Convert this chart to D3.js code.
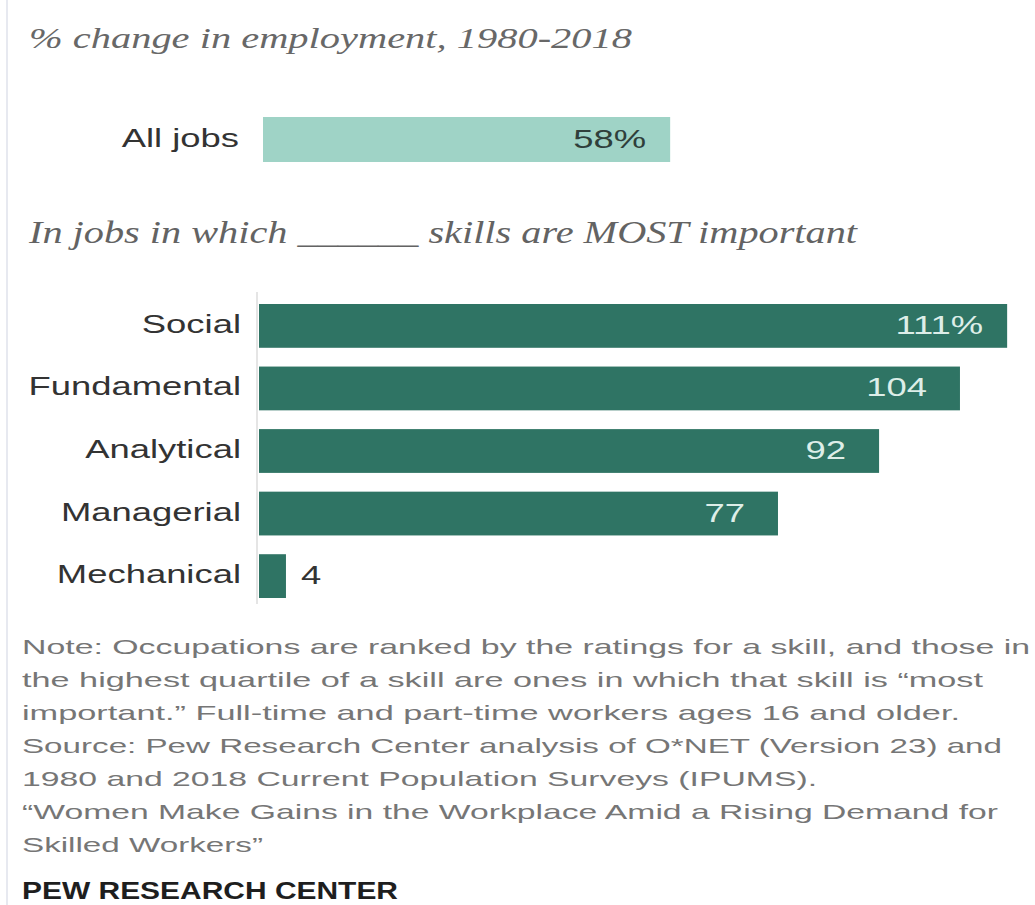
<!DOCTYPE html>
<html>
<head>
<meta charset="utf-8">
<script src="https://cdn.jsdelivr.net/npm/d3@7"></script>
<style>
  html, body { margin: 0; padding: 0; background: #fff; }
  svg { display: block; }
</style>
</head>
<body>
<svg id="chart" width="1035" height="905"></svg>
<script>
// ---- data ----
const overallLabel = ["All jobs"];
const overallValue = [58];
const skills = ["Social", "Fundamental", "Analytical", "Managerial", "Mechanical"];
const skillValues = [111, 104, 92, 77, 4];
const titleText = "% change in employment, 1980-2018";
const subtitleText = "In jobs in which ______ skills are MOST important";
const noteLines = [
  "Note: Occupations are ranked by the ratings for a skill, and those in",
  "the highest quartile of a skill are ones in which that skill is \u201cmost",
  "important.\u201d Full-time and part-time workers ages 16 and older.",
  "Source: Pew Research Center analysis of O*NET (Version 23) and",
  "1980 and 2018 Current Population Surveys (IPUMS).",
  "\u201cWomen Make Gains in the Workplace Amid a Rising Demand for",
  "Skilled Workers\u201d"
];
const creditText = "PEW RESEARCH CENTER";

// ---- layout ----
const SANS = "'Liberation Sans', Arial, sans-serif";
const SERIF = "'Liberation Serif', Georgia, serif";
const SX = 1.4;                       // horizontal stretch of the sans labels
const noteWidths = [1008, 961, 938, 980, 795, 976, 241];

const svg = d3.select("#chart");

function stretch(sel, sx) {
  sel.each(function () {
    const w = this.getComputedTextLength();
    d3.select(this).attr("textLength", w * sx).attr("lengthAdjust", "spacingAndGlyphs");
  });
}
function fitTo(sel, width) {
  sel.attr("textLength", width).attr("lengthAdjust", "spacingAndGlyphs");
}

// faint frame rule at the left edge
svg.append("line")
  .attr("x1", 7).attr("x2", 7).attr("y1", 0).attr("y2", 905)
  .attr("stroke", "#e7e9f0").attr("stroke-width", 2);

// title
svg.append("text")
  .attr("x", 29).attr("y", 48)
  .attr("font-family", SERIF).attr("font-style", "italic")
  .attr("font-size", 30).attr("fill", "#686868")
  .text(titleText)
  .call(fitTo, 603);

// ---- top panel: all jobs ----
const xTop = d3.scaleLinear().domain([0, 100]).range([263, 965]);
const yTop = d3.scaleBand().domain(overallLabel).range([117, 162]);

const topPanel = svg.append("g");
topPanel.selectAll("rect")
  .data(overallLabel)
  .join("rect")
  .attr("x", xTop(0))
  .attr("y", d => yTop(d))
  .attr("width", (d, i) => xTop(overallValue[i]) - xTop(0))
  .attr("height", yTop.bandwidth())
  .attr("fill", "#9fd3c6");

topPanel.selectAll("text.cat")
  .data(overallLabel)
  .join("text")
  .attr("class", "cat")
  .attr("x", 239)
  .attr("y", d => yTop(d) + yTop.bandwidth() / 2 + 7)
  .attr("text-anchor", "end")
  .attr("font-family", SANS).attr("font-size", 26).attr("fill", "#333")
  .text(d => d)
  .call(stretch, SX);

topPanel.selectAll("text.val")
  .data(overallLabel)
  .join("text")
  .attr("class", "val")
  .attr("x", (d, i) => xTop(overallValue[i]) - 24)
  .attr("y", d => yTop(d) + yTop.bandwidth() / 2 + 8)
  .attr("text-anchor", "end")
  .attr("font-family", SANS).attr("font-size", 26).attr("fill", "#2f3f3b")
  .text((d, i) => overallValue[i] + "%")
  .call(stretch, SX);

// subtitle
svg.append("text")
  .attr("x", 29).attr("y", 243)
  .attr("font-family", SERIF).attr("font-style", "italic")
  .attr("font-size", 32).attr("fill", "#636363")
  .text(subtitleText)
  .call(fitTo, 828);

// ---- skills panel ----
const x = d3.scaleLinear().domain([0, 100]).range([259, 933]);
const y = d3.scaleBand().domain(skills).range([304, 598]).paddingInner(0.3);

svg.append("line")
  .attr("x1", 257).attr("x2", 257).attr("y1", 292).attr("y2", 604)
  .attr("stroke", "#dcdcdc").attr("stroke-width", 1.5);

const bars = svg.append("g");
bars.selectAll("rect")
  .data(skills)
  .join("rect")
  .attr("x", x(0))
  .attr("y", d => y(d))
  .attr("width", (d, i) => x(skillValues[i]) - x(0))
  .attr("height", y.bandwidth())
  .attr("fill", "#2f7464");

bars.selectAll("text.cat")
  .data(skills)
  .join("text")
  .attr("class", "cat")
  .attr("x", 241)
  .attr("y", d => y(d) + y.bandwidth() / 2 + 7)
  .attr("text-anchor", "end")
  .attr("font-family", SANS).attr("font-size", 26).attr("fill", "#333")
  .text(d => d)
  .call(stretch, SX);

bars.selectAll("text.val")
  .data(skills)
  .join("text")
  .attr("class", "val")
  .each(function (d, i) {
    const v = skillValues[i];
    const inside = x(v) - x(0) > 60;
    const label = i === 0 ? v + "%" : String(v);
    d3.select(this)
      .attr("x", inside ? x(v) - (i === 0 ? 24 : 33) : x(v) + 15)
      .attr("y", y(d) + y.bandwidth() / 2 + 8)
      .attr("text-anchor", inside ? "end" : "start")
      .attr("fill", inside ? "#ddeee8" : "#333")
      .text(label);
  })
  .attr("font-family", SANS).attr("font-size", 26)
  .call(stretch, SX);

// ---- notes ----
const notes = svg.append("g");
notes.selectAll("text")
  .data(noteLines)
  .join("text")
  .attr("x", 22)
  .attr("y", (d, i) => 654 + i * 33)
  .attr("font-family", SANS).attr("font-size", 21).attr("fill", "#767676")
  .text(d => d)
  .each(function (d, i) { d3.select(this).call(fitTo, noteWidths[i]); });

svg.append("text")
  .attr("x", 22).attr("y", 899)
  .attr("font-family", SANS).attr("font-weight", "bold")
  .attr("font-size", 23).attr("fill", "#1e1e1e")
  .text(creditText)
  .call(fitTo, 376);
</script>
</body>
</html>
